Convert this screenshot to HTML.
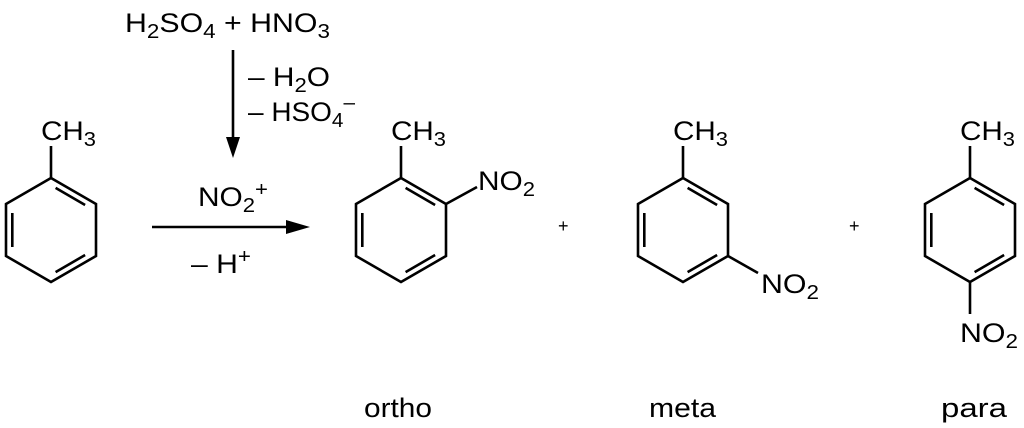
<!DOCTYPE html>
<html><head><meta charset="utf-8"><style>
html,body{margin:0;padding:0;background:#fff;}
svg{display:block;}
text{font-family:"Liberation Sans",Arial,sans-serif;font-size:27px;fill:#000;}
.s{font-size:20px;}
</style></head><body>
<svg width="1024" height="428" viewBox="0 0 1024 428" xmlns="http://www.w3.org/2000/svg">
<defs>
<g id="hex" fill="none" stroke="#000" stroke-width="2.6" stroke-linejoin="miter">
<path d="M0,-52 L45,-26 L45,26 L0,52 L-45,26 L-45,-26 Z"/>
<path d="M4.6,-42.1 L34.1,-25 M34.1,25 L4.6,42.1 M-38.7,17 L-38.7,-17"/>
</g>
</defs>
<g stroke="#000" stroke-width="2.6" fill="none">
<line x1="51" y1="178" x2="51" y2="146"/>
<line x1="401" y1="178" x2="401" y2="146"/>
<line x1="446" y1="204" x2="477" y2="187"/>
<line x1="683" y1="178" x2="683" y2="146"/>
<line x1="728" y1="256" x2="758" y2="273"/>
<line x1="970" y1="178" x2="970" y2="146"/>
<line x1="970" y1="282" x2="970" y2="314"/>
<line x1="233" y1="50" x2="233" y2="140"/>
<line x1="152" y1="227" x2="290" y2="227"/>
</g>
<polygon points="226,137 240,137 233,158" fill="#000"/>
<polygon points="286,220 286,234 310,227" fill="#000"/>
<use href="#hex" x="51" y="230"/>
<use href="#hex" x="401" y="230"/>
<use href="#hex" x="683" y="230"/>
<use href="#hex" x="970" y="230"/>

<text x="41" y="140" textLength="55" lengthAdjust="spacingAndGlyphs">CH<tspan class="s" dy="6">3</tspan></text>
<text x="391" y="140" textLength="55" lengthAdjust="spacingAndGlyphs">CH<tspan class="s" dy="6">3</tspan></text>
<text x="673" y="140" textLength="55" lengthAdjust="spacingAndGlyphs">CH<tspan class="s" dy="6">3</tspan></text>
<text x="960" y="140" textLength="55" lengthAdjust="spacingAndGlyphs">CH<tspan class="s" dy="6">3</tspan></text>

<text x="478" y="190" textLength="57" lengthAdjust="spacingAndGlyphs">NO<tspan class="s" dy="6">2</tspan></text>
<text x="761" y="293" textLength="58" lengthAdjust="spacingAndGlyphs">NO<tspan class="s" dy="6">2</tspan></text>
<text x="960" y="342" textLength="58" lengthAdjust="spacingAndGlyphs">NO<tspan class="s" dy="6">2</tspan></text>

<text x="125" y="32" textLength="205" lengthAdjust="spacingAndGlyphs">H<tspan class="s" dy="6">2</tspan><tspan dy="-6">SO</tspan><tspan class="s" dy="6">4</tspan><tspan dy="-6"> + HNO</tspan><tspan class="s" dy="6">3</tspan></text>
<text x="248" y="86" textLength="82" lengthAdjust="spacingAndGlyphs">– H<tspan class="s" dy="6">2</tspan><tspan dy="-6">O</tspan></text>
<text x="248" y="121" textLength="107" lengthAdjust="spacingAndGlyphs">– HSO<tspan class="s" dy="6">4</tspan><tspan class="s" dy="-18">–</tspan></text>
<text x="198" y="206" textLength="70" lengthAdjust="spacingAndGlyphs">NO<tspan class="s" dy="6">2</tspan><tspan class="s" dy="-16">+</tspan></text>
<text x="191" y="273" textLength="60" lengthAdjust="spacingAndGlyphs">– H<tspan class="s" dy="-10">+</tspan></text>

<text x="558" y="232" style="font-size:18px">+</text>
<text x="849" y="232" style="font-size:18px">+</text>

<text x="364" y="417" textLength="68" lengthAdjust="spacingAndGlyphs">ortho</text>
<text x="649" y="417" textLength="67" lengthAdjust="spacingAndGlyphs">meta</text>
<text x="941" y="417" textLength="66" lengthAdjust="spacingAndGlyphs">para</text>
</svg>
</body></html>
